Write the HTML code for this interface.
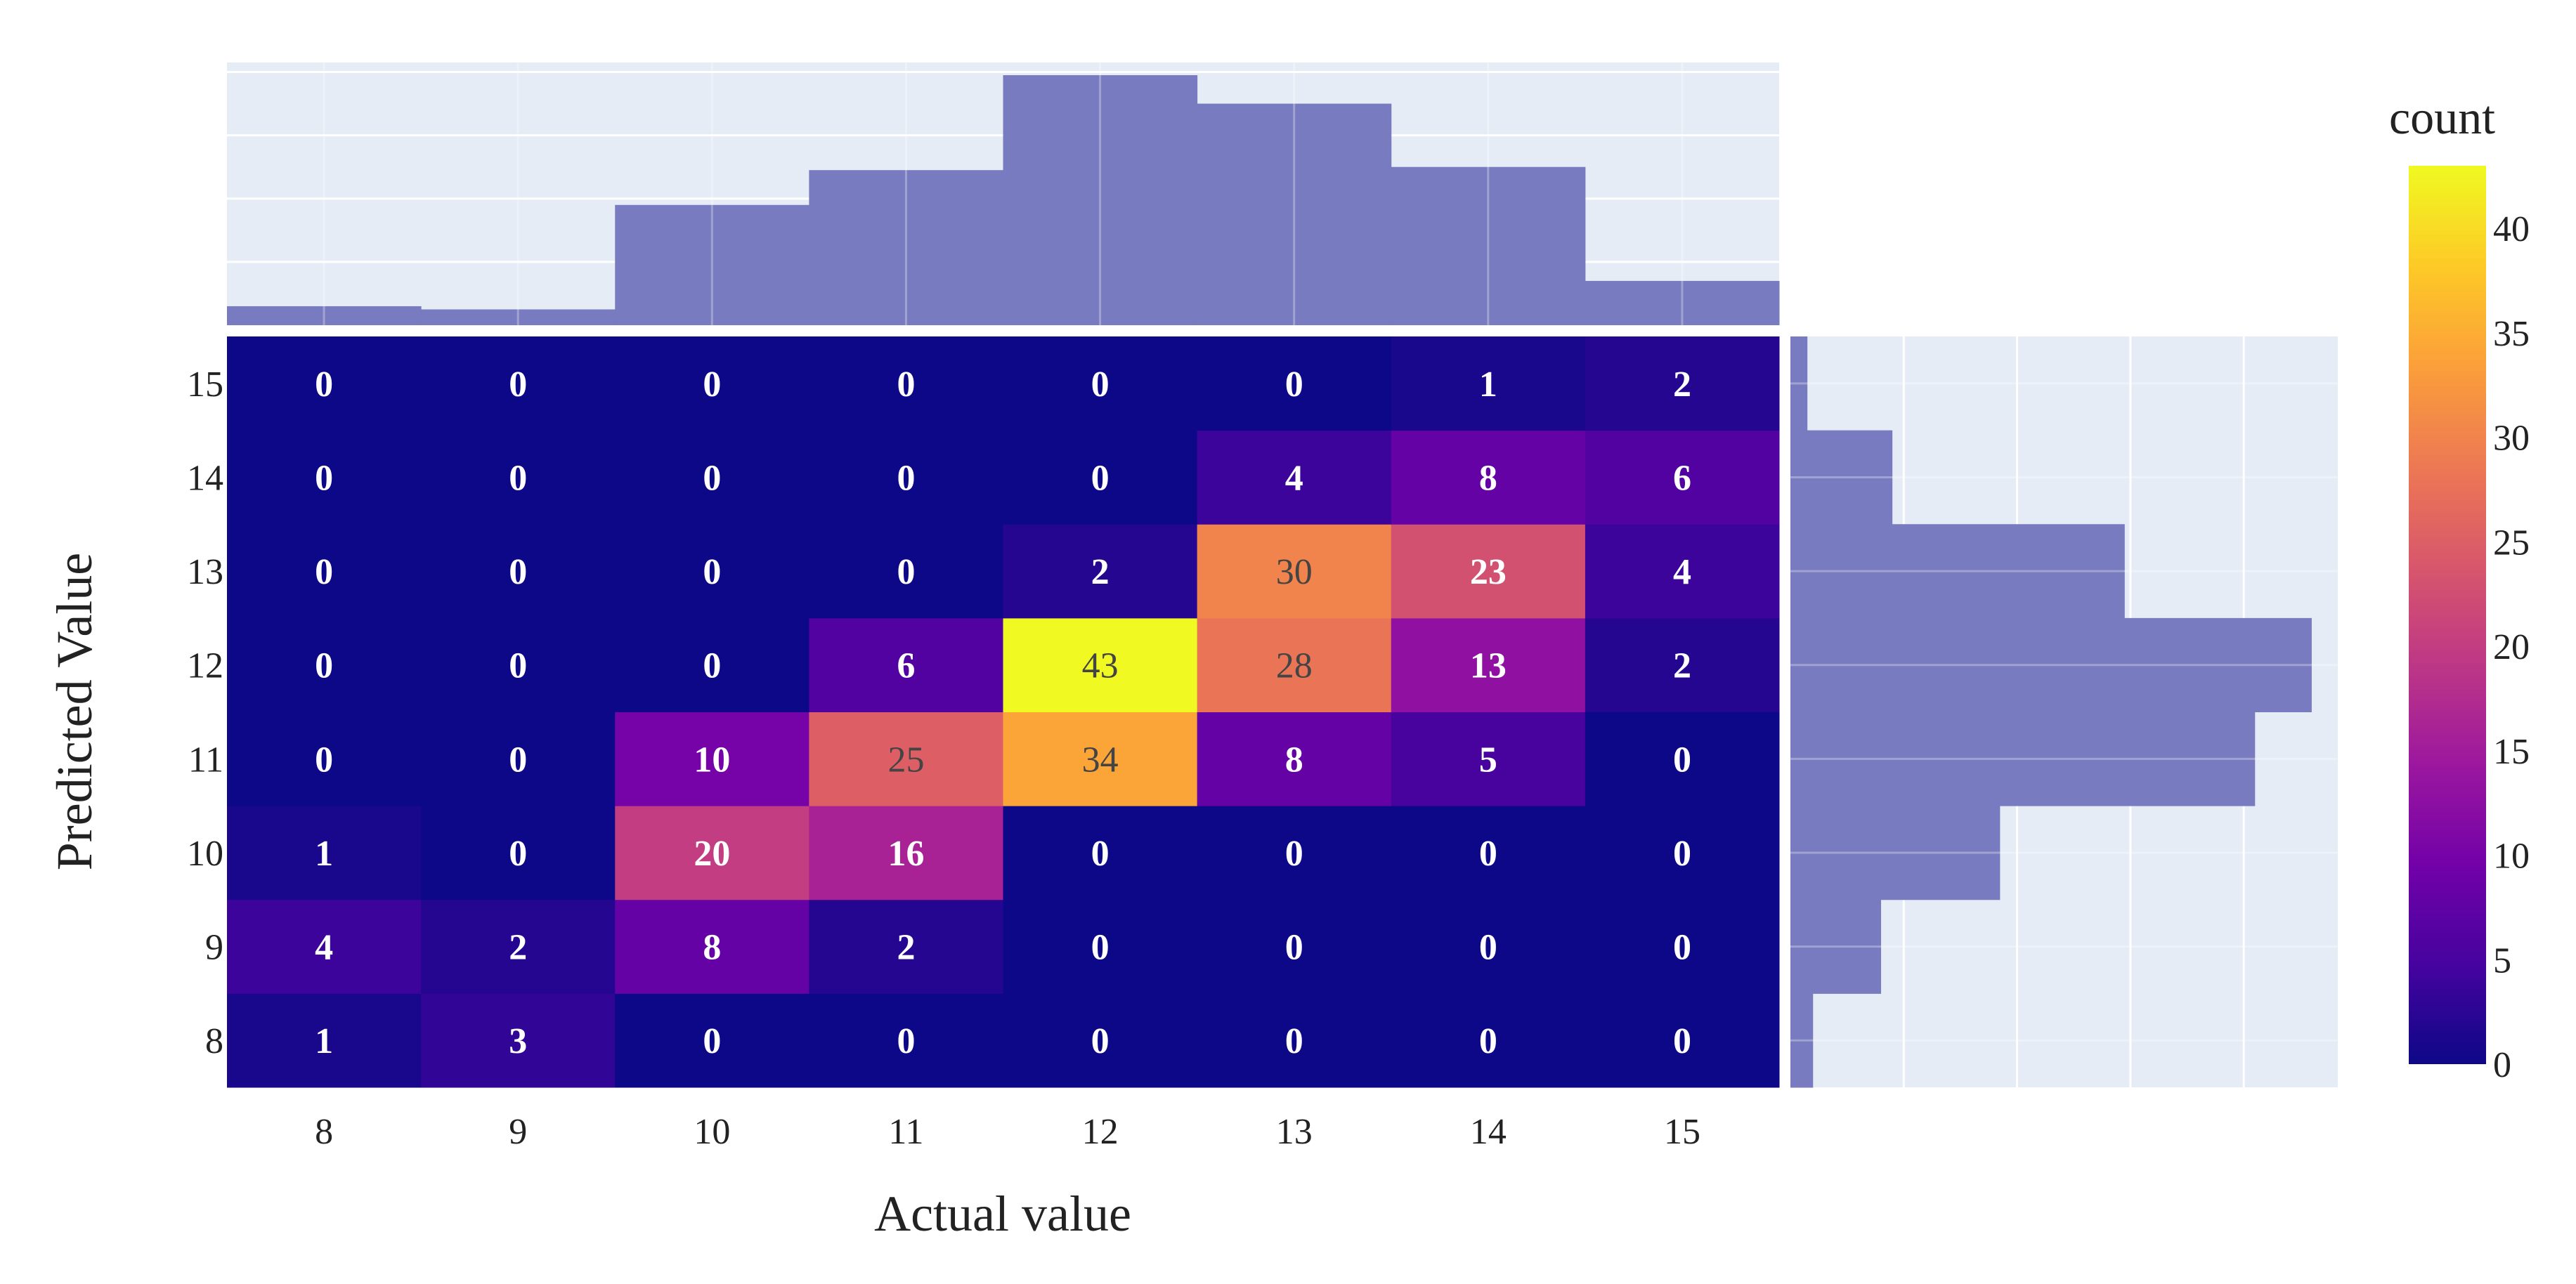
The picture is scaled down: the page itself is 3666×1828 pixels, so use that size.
<!DOCTYPE html>
<html><head><meta charset="utf-8"><style>
html,body{margin:0;padding:0;background:#fff}
svg{display:block}
text{font-family:"Liberation Serif",serif}
</style></head><body>
<svg id="chart" width="3666" height="1828" viewBox="0 0 3666 1828" xmlns="http://www.w3.org/2000/svg">
<defs><linearGradient id="cbgrad" x1="0" y1="1" x2="0" y2="0"></linearGradient></defs>
</svg>
<script>
const xCats=[8,9,10,11,12,13,14,15];
const yCats=[8,9,10,11,12,13,14,15];
// z rows: index by predicted (8..15), columns actual (8..15)
const zRow8 =[1,3,0,0,0,0,0,0];
const zRow9 =[4,2,8,2,0,0,0,0];
const zRow10=[1,0,20,16,0,0,0,0];
const zRow11=[0,0,10,25,34,8,5,0];
const zRow12=[0,0,0,6,43,28,13,2];
const zRow13=[0,0,0,0,2,30,23,4];
const zRow14=[0,0,0,0,0,4,8,6];
const zRow15=[0,0,0,0,0,0,1,2];
const cbTicks=[0,5,10,15,20,25,30,35,40];
const zMax=43;

const NS="http://www.w3.org/2000/svg";
const svg=document.getElementById('chart');
function el(t,a,p){const e=document.createElementNS(NS,t);for(const k in a)e.setAttribute(k,a[k]);(p||svg).appendChild(e);return e;}
const Z=[zRow8,zRow9,zRow10,zRow11,zRow12,zRow13,zRow14,zRow15];

const HX0=323,HX1=2532,HY0=479,HY1=1548;
const cw=(HX1-HX0)/xCats.length, ch=(HY1-HY0)/yCats.length;
const xC=i=>HX0+cw*(i+0.5);
const yC=j=>HY1-ch*(j+0.5);

const plasma=['#0d0887','#46039f','#7201a8','#9c179e','#bd3786','#d8576b','#ed7953','#fb9f3a','#fdca26','#f0f921'];
function hex(h){return [1,3,5].map(i=>parseInt(h.substr(i,2),16));}
function color(v){let t=Math.max(0,Math.min(1,v/zMax))*(plasma.length-1);let i=Math.min(Math.floor(t),plasma.length-2);let f=t-i;const a=hex(plasma[i]),b=hex(plasma[i+1]);return 'rgb('+a.map((c,k)=>Math.round(c+(b[k]-c)*f)).join(',')+')';}

const TXT='#222';
const hm=el('g',{});


yCats.forEach((yc,j)=>xCats.forEach((xc,i)=>{
  const v=Z[j][i];
  const r=el('rect',{x:HX0+cw*i,y:HY1-ch*(j+1),width:cw+0.5,height:ch+0.5,fill:color(v)},hm);
  
  
  const dark=v>=24;
  const t=el('text',{x:xC(i),y:yC(j)+18,'text-anchor':'middle','font-size':52,fill:dark?'#444':'#fff','font-weight':dark?'normal':'bold'},hm);
  t.textContent=v;
  
  
}));

const colSums=xCats.map((_,i)=>Z.reduce((s,r)=>s+r[i],0));
const TY0=89,TY1=463,tMax=83;
const tY=v=>TY1-(TY1-TY0)*v/tMax;
const th=el('g',{});


el('rect',{x:HX0,y:TY0,width:HX1-HX0,height:TY1-TY0,fill:'#e5ecf6'},th);
[20,40,60,80].forEach(g=>el('line',{x1:HX0,x2:HX1,y1:tY(g),y2:tY(g),stroke:'#fff','stroke-width':3},th));
colSums.forEach((s,i)=>{const b=el('rect',{x:HX0+cw*i,y:tY(s),width:cw+0.5,height:TY1-tY(s),fill:'#787bbf'},th);
  
  });
xCats.forEach((_,i)=>el('line',{x1:xC(i),x2:xC(i),y1:TY0,y2:TY1,stroke:'#fff','stroke-width':3,'stroke-opacity':0.3},th));

const rowSums=Z.map(r=>r.reduce((a,b)=>a+b,0));
const RX0=2548,RX1=3327,rMax=96.6;
const rX=v=>RX0+(RX1-RX0)*v/rMax;
const rh=el('g',{});


el('rect',{x:RX0,y:HY0,width:RX1-RX0,height:HY1-HY0,fill:'#e5ecf6'},rh);
[20,40,60,80].forEach(g=>el('line',{x1:rX(g),x2:rX(g),y1:HY0,y2:HY1,stroke:'#fff','stroke-width':3},rh));
rowSums.forEach((s,j)=>{const b=el('rect',{x:RX0,y:HY1-ch*(j+1),width:rX(s)-RX0,height:ch+0.5,fill:'#787bbf'},rh);
  
  });
yCats.forEach((_,j)=>el('line',{x1:RX0,x2:RX1,y1:yC(j),y2:yC(j),stroke:'#fff','stroke-width':3,'stroke-opacity':0.3},rh));

xCats.forEach((c,i)=>{const t=el('text',{x:xC(i),y:1628,'text-anchor':'middle','font-size':52,fill:TXT});t.textContent=c;
  
  });
yCats.forEach((c,j)=>{const t=el('text',{x:318,y:yC(j)+18,'text-anchor':'end','font-size':52,fill:TXT});t.textContent=c;
  
  });
const xt=el('text',{x:1427,y:1752,'text-anchor':'middle','font-size':72,fill:TXT});xt.textContent='Actual value';


const yt=el('text',{x:0,y:0,'text-anchor':'middle','font-size':72,fill:TXT,transform:'translate(130,1013) rotate(-90)'});yt.textContent='Predicted Value';



const grad=document.getElementById('cbgrad');
plasma.forEach((c,k)=>el('stop',{offset:(k/(plasma.length-1)),'stop-color':c},grad));
const CBX=3428,CBW=110,CBY0=236,CBY1=1515;
const cbY=v=>CBY1-(CBY1-CBY0)*v/zMax;
const cb=el('g',{});


el('rect',{x:CBX,y:CBY0,width:CBW,height:CBY1-CBY0,fill:'url(#cbgrad)'},cb);
cbTicks.forEach(v=>{const t=el('text',{x:3548,y:cbY(v)+18,'font-size':52,fill:TXT},cb);t.textContent=v;
  
  });
const ct=el('text',{x:3400,y:190,'font-size':68,fill:TXT});ct.textContent='count';


</script>
</body></html>
